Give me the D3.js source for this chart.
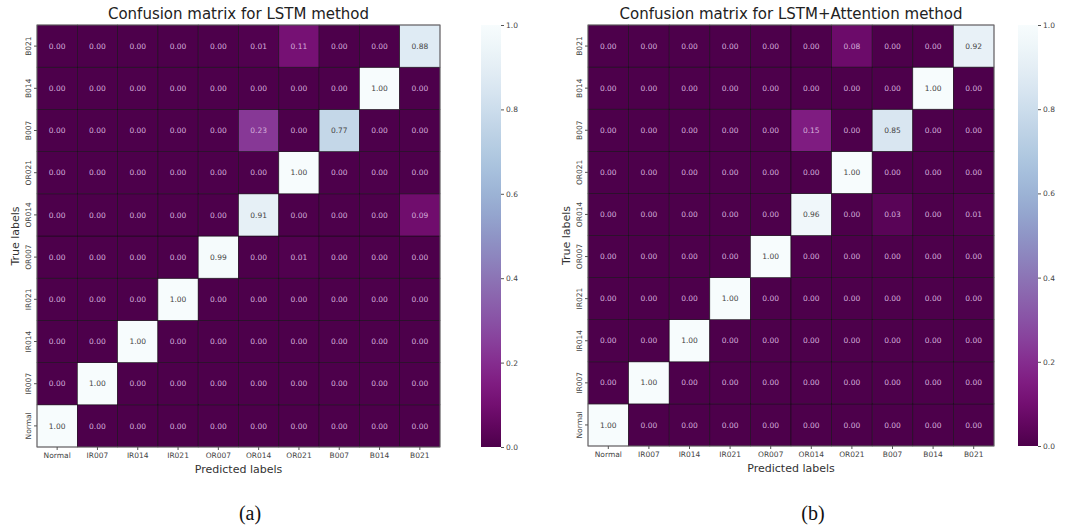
<!DOCTYPE html>
<html>
<head>
<meta charset="utf-8">
<script src="https://cdn.jsdelivr.net/npm/d3@7"></script>
<style>
  body { margin: 0; background: #fff; }
  svg { display: block; font-family: "DejaVu Sans", sans-serif; }
</style>
</head>
<body>
<svg id="chart" width="1078" height="529"></svg>
<script>
// class labels, true label = row, predicted label = column
const classes = ["Normal", "IR007", "IR014", "IR021", "OR007", "OR014", "OR021", "B007", "B014", "B021"];

const lstmMatrix = [
  [1.00, 0.00, 0.00, 0.00, 0.00, 0.00, 0.00, 0.00, 0.00, 0.00],
  [0.00, 1.00, 0.00, 0.00, 0.00, 0.00, 0.00, 0.00, 0.00, 0.00],
  [0.00, 0.00, 1.00, 0.00, 0.00, 0.00, 0.00, 0.00, 0.00, 0.00],
  [0.00, 0.00, 0.00, 1.00, 0.00, 0.00, 0.00, 0.00, 0.00, 0.00],
  [0.00, 0.00, 0.00, 0.00, 0.99, 0.00, 0.01, 0.00, 0.00, 0.00],
  [0.00, 0.00, 0.00, 0.00, 0.00, 0.91, 0.00, 0.00, 0.00, 0.09],
  [0.00, 0.00, 0.00, 0.00, 0.00, 0.00, 1.00, 0.00, 0.00, 0.00],
  [0.00, 0.00, 0.00, 0.00, 0.00, 0.23, 0.00, 0.77, 0.00, 0.00],
  [0.00, 0.00, 0.00, 0.00, 0.00, 0.00, 0.00, 0.00, 1.00, 0.00],
  [0.00, 0.00, 0.00, 0.00, 0.00, 0.01, 0.11, 0.00, 0.00, 0.88]
];

const attnMatrix = [
  [1.00, 0.00, 0.00, 0.00, 0.00, 0.00, 0.00, 0.00, 0.00, 0.00],
  [0.00, 1.00, 0.00, 0.00, 0.00, 0.00, 0.00, 0.00, 0.00, 0.00],
  [0.00, 0.00, 1.00, 0.00, 0.00, 0.00, 0.00, 0.00, 0.00, 0.00],
  [0.00, 0.00, 0.00, 1.00, 0.00, 0.00, 0.00, 0.00, 0.00, 0.00],
  [0.00, 0.00, 0.00, 0.00, 1.00, 0.00, 0.00, 0.00, 0.00, 0.00],
  [0.00, 0.00, 0.00, 0.00, 0.00, 0.96, 0.00, 0.03, 0.00, 0.01],
  [0.00, 0.00, 0.00, 0.00, 0.00, 0.00, 1.00, 0.00, 0.00, 0.00],
  [0.00, 0.00, 0.00, 0.00, 0.00, 0.15, 0.00, 0.85, 0.00, 0.00],
  [0.00, 0.00, 0.00, 0.00, 0.00, 0.00, 0.00, 0.00, 1.00, 0.00],
  [0.00, 0.00, 0.00, 0.00, 0.00, 0.00, 0.08, 0.00, 0.00, 0.92]
];

const colorbarTicks = [0, 0.2, 0.4, 0.6, 0.8, 1.0];

const panels = [
  { title: "Confusion matrix for LSTM method", caption: "(a)", data: lstmMatrix,
    left: 37, top: 25, width: 403, height: 422, cbLeft: 481, capX: 250 },
  { title: "Confusion matrix for LSTM+Attention method", caption: "(b)", data: attnMatrix,
    left: 588, top: 25, width: 406, height: 421, cbLeft: 1018, capX: 813 }
];

// BuPu reversed, like seaborn cmap="BuPu_r"
const color = d3.scaleSequential(t => d3.interpolateBuPu(1 - t)).domain([0, 1]);

const svg = d3.select("#chart");
const defs = svg.append("defs");
const grad = defs.append("linearGradient")
  .attr("id", "cbGrad")
  .attr("x1", "0%").attr("x2", "0%")
  .attr("y1", "100%").attr("y2", "0%");
d3.range(0, 1.0001, 0.05).forEach(t => {
  grad.append("stop").attr("offset", (t * 100) + "%").attr("stop-color", color(t));
});

panels.forEach((p, pi) => {
  const g = svg.append("g");

  const x = d3.scaleBand().domain(classes).range([p.left, p.left + p.width]);
  // Normal at the bottom, B021 at the top
  const y = d3.scaleBand().domain(classes).range([p.top + p.height, p.top]);

  const cells = [];
  p.data.forEach((row, ri) => row.forEach((v, ci) => {
    cells.push({ t: classes[ri], pr: classes[ci], v: v });
  }));

  g.selectAll("rect.cell")
    .data(cells)
    .join("rect")
    .attr("class", "cell")
    .attr("x", d => x(d.pr))
    .attr("y", d => y(d.t))
    .attr("width", x.bandwidth())
    .attr("height", y.bandwidth())
    .attr("fill", d => color(d.v))
    .attr("stroke", "#1a0a1a")
    .attr("stroke-width", 0.6);

  g.selectAll("text.val")
    .data(cells)
    .join("text")
    .attr("class", "val")
    .attr("x", d => x(d.pr) + x.bandwidth() / 2)
    .attr("y", d => y(d.t) + y.bandwidth() / 2)
    .attr("dy", "0.35em")
    .attr("text-anchor", "middle")
    .attr("font-size", 7.5)
    .attr("fill", d => d.v > 0.5 ? "#444" : "#d4aedb")
    .text(d => d.v.toFixed(2));

  // outer frame
  g.append("rect")
    .attr("x", p.left).attr("y", p.top)
    .attr("width", p.width).attr("height", p.height)
    .attr("fill", "none").attr("stroke", "#777").attr("stroke-width", 0.8);

  // axes
  const xAxis = g.append("g")
    .attr("transform", `translate(0,${p.top + p.height})`)
    .call(d3.axisBottom(x).tickSize(3).tickPadding(3));
  xAxis.select(".domain").remove();
  xAxis.selectAll("line").attr("stroke", "#555");
  xAxis.selectAll("text").attr("font-size", 7.5).attr("fill", "#444")
    .attr("font-family", "DejaVu Sans");

  const yAxis = g.append("g")
    .attr("transform", `translate(${p.left},0)`)
    .call(d3.axisLeft(y).tickSize(3).tickPadding(2));
  yAxis.select(".domain").remove();
  yAxis.selectAll("line").attr("stroke", "#555");
  yAxis.selectAll("text")
    .attr("font-size", 7.5).attr("fill", "#444").attr("font-family", "DejaVu Sans")
    .attr("text-anchor", "middle")
    .attr("x", null).attr("dy", null)
    .attr("transform", "translate(-6,0) rotate(-90)");

  // titles
  g.append("text")
    .attr("x", p.left + p.width / 2).attr("y", p.top - 6)
    .attr("text-anchor", "middle").attr("font-size", 15).attr("fill", "#222")
    .text(p.title);

  g.append("text")
    .attr("x", p.left + p.width / 2).attr("y", p.top + p.height + 26)
    .attr("text-anchor", "middle").attr("font-size", 11).attr("fill", "#333")
    .text("Predicted labels");

  g.append("text")
    .attr("transform", `translate(${p.left - 18},${p.top + p.height / 2}) rotate(-90)`)
    .attr("text-anchor", "middle").attr("font-size", 11).attr("fill", "#333")
    .text("True labels");

  // colorbar
  const cbW = 20;
  const cy = d3.scaleLinear().domain([0, 1]).range([p.top + p.height, p.top]);
  g.append("rect")
    .attr("x", p.cbLeft).attr("y", p.top)
    .attr("width", cbW).attr("height", p.height)
    .attr("fill", "url(#cbGrad)");
  const cbAxis = g.append("g")
    .attr("transform", `translate(${p.cbLeft + cbW},0)`)
    .call(d3.axisRight(cy).tickValues(colorbarTicks).tickFormat(d3.format(".1f")).tickSize(3).tickPadding(2));
  cbAxis.select(".domain").remove();
  cbAxis.selectAll("line").attr("stroke", "#555");
  cbAxis.selectAll("text").attr("font-size", 7.5).attr("fill", "#444")
    .attr("font-family", "DejaVu Sans");

  // caption
  g.append("text")
    .attr("x", p.capX).attr("y", 520)
    .attr("text-anchor", "middle")
    .attr("font-family", "Liberation Serif, serif")
    .attr("font-size", 20).attr("fill", "#111")
    .text(p.caption);
});
</script>
</body>
</html>
